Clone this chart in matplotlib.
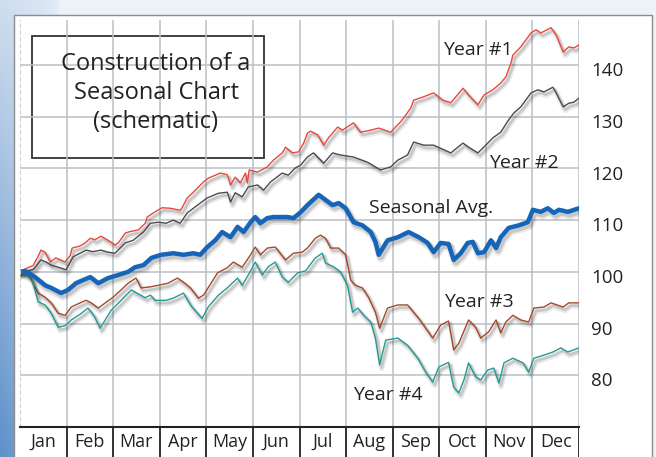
import numpy as np
import matplotlib
matplotlib.use("Agg")
import matplotlib.pyplot as plt
import matplotlib.patheffects as pe
import matplotlib.transforms as mtransforms
from matplotlib.patches import Rectangle

W, H = 656, 457
FONT = "Open Sans"

months = ["Jan", "Feb", "Mar", "Apr", "May", "Jun",
          "Jul", "Aug", "Sep", "Oct", "Nov", "Dec"]
y_ticks = [80, 90, 100, 110, 120, 130, 140]

# x in months from Jan 1 (0) to Dec 31 (12)
year1_x = [0, .17, .28, .39, .45, .54, .65, .77, .90, .97, 1.08, 1.12, 1.29, 1.40,
           1.51, 1.61, 1.74, 1.89, 2.04, 2.11, 2.26, 2.37, 2.54, 2.69, 2.73, 2.90,
           3.05, 3.23, 3.44, 3.48, 3.59, 3.70, 3.94, 4.04, 4.30, 4.45, 4.52, 4.62,
           4.73, 4.84, 4.88, 4.92, 5.10, 5.31, 5.44, 5.63, 5.70, 5.85, 5.98, 6.09,
           6.17, 6.24, 6.39, 6.52, 6.62, 6.82, 6.92, 7.16, 7.31, 7.53, 7.70, 7.96,
           8.06, 8.17, 8.28, 8.39, 8.45, 8.65, 8.88, 9.08, 9.25, 9.51, 9.63, 9.83,
           9.96, 10.15, 10.32, 10.43, 10.54, 10.58, 10.75, 10.97, 11.08, 11.18,
           11.40, 11.51, 11.66, 11.78, 11.89, 12.0]
year1_y = [100, 100.8, 101.2, 103.0, 104.2, 103.8, 101.9, 102.7, 102.2, 101.9, 103.2,
           104.6, 105.0, 105.6, 106.5, 106.2, 106.9, 106.1, 105.2, 105.6, 107.5, 107.8,
           108.1, 109.4, 110.6, 111.6, 112.4, 112.3, 111.9, 112.4, 114.3, 115.2, 117.4,
           118.1, 119.1, 118.8, 116.8, 118.3, 117.2, 119.1, 117.2, 119.7, 119.3, 120.3,
           121.6, 123.0, 124.1, 123.0, 123.2, 124.9, 126.8, 127.2, 126.5, 124.5, 125.9,
           128.0, 127.4, 128.8, 127.0, 127.4, 127.8, 127.0, 128.0, 129.0, 130.3, 131.7,
           133.2, 133.8, 134.6, 133.2, 132.7, 135.5, 134.2, 132.3, 134.2, 135.2, 136.5,
           137.7, 140.4, 141.9, 143.5, 146.2, 146.8, 146.2, 147.2, 145.8, 142.5, 143.5,
           143.3, 143.9]

year2_x = [0, .28, .45, .56, .67, .86, .99, 1.08, 1.14, 1.42, 1.57, 1.74, 1.89, 2.04,
           2.26, 2.43, 2.65, 2.80, 2.97, 3.14, 3.29, 3.44, 3.59, 3.87, 4.02, 4.26,
           4.45, 4.52, 4.62, 4.77, 4.90, 5.10, 5.23, 5.38, 5.63, 5.76, 5.91, 6.02,
           6.17, 6.30, 6.52, 6.71, 6.88, 7.16, 7.46, 7.74, 7.96, 8.11, 8.32, 8.45,
           8.67, 8.88, 9.10, 9.25, 9.51, 9.63, 9.83, 10.0, 10.15, 10.32, 10.49, 10.60,
           10.75, 10.97, 11.12, 11.25, 11.44, 11.51, 11.66, 11.78, 11.89, 12.0]
year2_y = [100, 100.4, 102.3, 101.9, 101.3, 100.8, 100.4, 101.9, 102.9, 104.2, 103.9,
           104.2, 103.8, 103.6, 105.6, 106.1, 107.7, 109.4, 109.6, 109.4, 110.0, 109.4,
           111.4, 113.3, 114.3, 115.2, 115.4, 113.5, 115.3, 114.5, 116.4, 116.8, 115.8,
           117.4, 119.1, 118.7, 120.1, 120.6, 122.2, 123.0, 121.0, 123.0, 122.6, 122.2,
           121.2, 119.7, 120.3, 121.6, 122.6, 125.1, 124.5, 124.5, 123.6, 123.0, 124.9,
           124.1, 123.0, 124.5, 125.9, 127.0, 129.4, 130.7, 131.9, 134.6, 135.2, 134.8,
           135.7, 134.6, 131.9, 132.6, 132.8, 133.6]

avg_x = [0, .11, .32, .54, .67, .88, 1.03, 1.20, 1.35, 1.51, 1.68, 1.89, 2.11, 2.32,
         2.47, 2.65, 2.82, 3.03, 3.29, 3.51, 3.72, 3.87, 4.02, 4.19, 4.34, 4.52,
         4.67, 4.80, 4.95, 5.05, 5.16, 5.31, 5.44, 5.74, 5.87, 6.02, 6.17, 6.41,
         6.56, 6.71, 6.84, 6.99, 7.16, 7.35, 7.53, 7.63, 7.70, 7.89, 8.11, 8.34,
         8.56, 8.75, 8.88, 9.03, 9.20, 9.31, 9.46, 9.61, 9.72, 9.83, 9.96, 10.11,
         10.22, 10.32, 10.49, 10.71, 10.90, 11.01, 11.18, 11.33, 11.46, 11.57,
         11.76, 12.0]
avg_y = [100, 100.2, 99.0, 97.4, 96.9, 95.9, 96.5, 97.8, 98.4, 99.0, 97.8, 98.8, 99.4,
         100.0, 100.9, 101.3, 102.7, 103.3, 103.6, 103.3, 103.6, 103.3, 104.8, 106.1,
         107.7, 106.7, 108.7, 107.7, 109.6, 110.6, 109.4, 110.4, 110.6, 110.6, 110.4,
         111.5, 112.9, 114.9, 113.9, 112.9, 113.3, 112.3, 109.6, 109.0, 107.7, 105.8,
         103.3, 106.1, 106.7, 107.7, 106.7, 105.6, 103.8, 105.6, 105.4, 102.3, 103.6,
         105.6, 105.8, 103.6, 103.8, 106.1, 104.6, 106.7, 108.5, 109.0, 109.6, 112.0,
         111.6, 112.3, 111.4, 112.0, 111.6, 112.3]

year3_x = [0, .17, .32, .39, .54, .67, .82, .97, 1.10, 1.29, 1.42, 1.53, 1.68, 1.83,
           2.0, 2.17, 2.32, 2.49, 2.60, 2.80, 2.97, 3.18, 3.38, 3.51, 3.66, 3.83,
           3.94, 4.24, 4.45, 4.58, 4.77, 4.95, 5.05, 5.16, 5.31, 5.48, 5.70, 5.87,
           6.06, 6.17, 6.34, 6.45, 6.56, 6.67, 6.84, 6.99, 7.10, 7.20, 7.35, 7.48,
           7.63, 7.72, 7.89, 8.11, 8.32, 8.56, 8.71, 8.86, 9.03, 9.20, 9.31, 9.42,
           9.63, 9.78, 9.89, 10.06, 10.22, 10.32, 10.43, 10.58, 10.75, 10.92, 11.03,
           11.25, 11.40, 11.66, 11.78, 12.0]
year3_y = [100, 99.8, 97.1, 95.9, 95.1, 94.0, 92.0, 91.6, 93.2, 94.0, 94.5, 94.0, 93.0,
           94.0, 95.1, 96.5, 97.8, 98.8, 96.9, 97.1, 97.4, 97.8, 98.8, 98.0, 96.9, 94.9,
           95.5, 99.8, 100.8, 101.9, 100.9, 103.3, 104.8, 103.3, 104.6, 104.8, 102.3,
           103.6, 103.8, 104.6, 106.5, 107.1, 106.5, 104.6, 104.6, 103.3, 98.4, 97.4,
           96.9, 95.1, 92.2, 89.1, 93.0, 93.6, 93.6, 91.0, 89.1, 87.2, 89.7, 90.5, 84.9,
           86.2, 90.7, 89.3, 87.2, 88.4, 90.7, 88.2, 90.3, 91.6, 90.7, 90.3, 93.0, 93.2,
           94.0, 93.2, 94.0, 94.0]

year4_x = [0, .24, .32, .39, .54, .67, .82, .97, 1.10, 1.29, 1.46, 1.59, 1.72, 1.96,
           2.15, 2.39, 2.49, 2.69, 2.80, 2.90, 3.14, 3.29, 3.51, 3.66, 3.81, 3.91,
           4.04, 4.26, 4.45, 4.67, 4.77, 4.90, 5.05, 5.20, 5.33, 5.48, 5.63, 5.76,
           5.96, 6.13, 6.34, 6.49, 6.56, 6.73, 6.88, 7.03, 7.14, 7.25, 7.38, 7.53,
           7.63, 7.72, 7.85, 8.11, 8.32, 8.54, 8.71, 8.86, 8.99, 9.20, 9.31, 9.42,
           9.53, 9.63, 9.78, 9.89, 10.04, 10.17, 10.28, 10.39, 10.58, 10.80, 10.92,
           11.03, 11.25, 11.44, 11.61, 11.76, 12.0]
year4_y = [100, 98.8, 96.5, 94.2, 93.6, 92.0, 89.3, 89.6, 90.7, 91.8, 93.0, 91.5, 89.1,
           92.6, 94.3, 96.5, 96.0, 95.0, 95.5, 94.5, 94.5, 94.9, 95.9, 93.6, 92.0, 91.0,
           93.2, 95.5, 96.9, 98.8, 97.4, 99.4, 101.9, 99.4, 101.0, 101.9, 99.0, 98.0,
           99.8, 100.2, 102.7, 103.6, 101.7, 101.0, 100.0, 97.4, 92.2, 93.0, 91.6, 90.3,
           87.2, 82.0, 86.8, 87.2, 85.8, 83.3, 80.6, 78.7, 81.6, 82.5, 77.7, 76.6, 79.1,
           82.4, 79.7, 79.1, 81.0, 81.4, 78.5, 82.4, 83.3, 82.4, 80.6, 83.3, 83.9, 84.5,
           85.3, 84.5, 85.3]

fig = plt.figure(figsize=(W / 100, H / 100), dpi=100)

# background gradient (light top, blue towards lower left)
bg = fig.add_axes([0, 0, 1, 1])
yy, xx = np.mgrid[0:H, 0:W]
a = (0.2 + 0.8 * yy / H) * np.clip(1 - xx / 60, 0, 1) ** 0.4
light = np.array([0.93, 0.95, 0.975])
blue = np.array([0.36, 0.56, 0.79])
img = light * (1 - a[..., None]) + blue * a[..., None]
bg.imshow(img, extent=[0, W, 0, H], origin="upper", aspect="auto")
bg.set_xlim(0, W)
bg.set_ylim(0, H)
bg.axis("off")

# white panel
bg.add_patch(Rectangle((14, -5), 652 - 14, H - 15 + 5, fc="white",
                       ec="#8c8c8c", lw=1.0))

ax = fig.add_axes([20 / W, 30 / H, 559 / W, 407 / H])
ax.set_facecolor("none")
ax.set_xlim(0, 12)
ax.set_ylim(70, 148.7)
ax.set_xticks(range(1, 13))
ax.set_yticks(y_ticks)
ax.grid(True, color="#b9c0c6", lw=1.1)
ax.tick_params(axis="x", length=0, labelbottom=False)
ax.yaxis.tick_right()
ax.tick_params(axis="y", length=0, pad=9, labelsize=13.5)
drop = mtransforms.ScaledTranslation(0, -3 / 72, fig.dpi_scale_trans)
for lab in ax.get_yticklabels():
    lab.set_fontfamily(FONT)
    lab.set_color("#222222")
    lab.set_transform(lab.get_transform() + drop)
for s in ["top", "right", "bottom"]:
    ax.spines[s].set_visible(False)
ax.spines["left"].set_color("#d0d0d0")
ax.spines["left"].set_linestyle((0, (3, 3)))

series = [
    (year1_x, year1_y, "#e8473c", 1.0),
    (year2_x, year2_y, "#4a4a4a", 1.0),
    (year3_x, year3_y, "#a4472a", 1.0),
    (year4_x, year4_y, "#239a94", 1.0),
    (avg_x, avg_y, "#1565b8", 3.2),
]
for x, y, c, lw in series:
    # soft drop shadow, a wide faint one plus a narrower one
    fx = [pe.SimpleLineShadow(offset=(1.5, -2.5), shadow_color="#000000",
                              alpha=0.08, linewidth=lw + 3),
          pe.SimpleLineShadow(offset=(1.5, -2.0), shadow_color="#000000",
                              alpha=0.15, linewidth=lw + 1),
          pe.Normal()]
    ax.plot(x, y, color=c, lw=lw, path_effects=fx)

# line labels
labels = [("Year #1", 443, 50), ("Year #2", 489, 163), ("Seasonal Avg.", 369, 208),
          ("Year #3", 444, 302), ("Year #4", 353, 395)]
for txt, px, py in labels:
    fig.text(px / W, 1 - py / H, txt, ha="left", va="center", fontsize=14,
             family=FONT, color="#222222")

# title box
bg.add_patch(Rectangle((32, H - 158), 232, 122, fc="white", ec="#333333", lw=1.3))
fig.text(156 / W, 1 - 93 / H, "Construction of a\nSeasonal Chart\n(schematic)",
         ha="center", va="center", fontsize=17, family=FONT, color="#222222",
         linespacing=1.3)

# month row
mx = fig.add_axes([20 / W, 0, 559 / W, 30 / H])
mx.set_xlim(0, 12)
mx.set_ylim(0, 1)
mx.axis("off")
mx.axhline(1, color="#222222", lw=1.5, clip_on=False)
for i in range(1, 13):
    mx.axvline(i, color="#222222", lw=1.3)
for i, m in enumerate(months):
    mx.text(i + 0.5, 0.5, m, ha="center", va="center", fontsize=13,
            family=FONT, color="#222222")

fig.savefig("out.png", dpi=100)
